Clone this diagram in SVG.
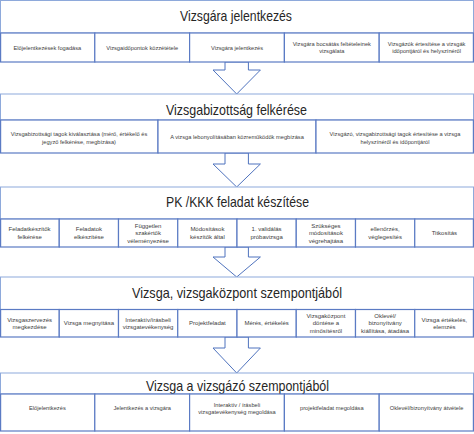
<svg xmlns="http://www.w3.org/2000/svg" width="474" height="434" viewBox="0 0 474 434">
<style>
.bg{fill:#ffffff}
.hdr{fill:#ffffff;stroke:#8ea9db;stroke-width:1}
.box{fill:#ffffff;stroke:#5b7bc4;stroke-width:1.2}
.arr{fill:#ffffff;stroke:#4f73be;stroke-width:1}
.title{font-family:"Liberation Sans",Arial,sans-serif;font-size:14.5px;fill:#262626;text-anchor:middle}
.t{font-family:"Liberation Sans",Arial,sans-serif;font-size:5.7px;fill:#404040;text-anchor:middle}
.t6{font-family:"Liberation Sans",Arial,sans-serif;font-size:6px;fill:#404040;text-anchor:middle}
</style>
<rect class="bg" x="0" y="0" width="474" height="434"/>

<g id="connectors">
<polygon class="arr" points="225,62 225,70 213,70 236.7,94 260.4,70 248.4,70 248.4,62"/>
<polygon class="arr" points="225,153 225,164 213,164 236.7,187 260.4,164 248.4,164 248.4,153"/>
<polygon class="arr" points="225,247 225,257 213,257 236.7,277 260.4,257 248.4,257 248.4,247"/>
<polygon class="arr" points="225,337 225,348 213,348 236.7,373 260.4,348 248.4,348 248.4,337"/>
</g>

<g id="row1">
<rect class="hdr" x="0.5" y="0.5" width="473" height="32.5"/>
<text class="title" x="236" y="21" textLength="112" lengthAdjust="spacingAndGlyphs">Vizsgára jelentkezés</text>
<g id="r1b1"><rect class="box" x="0.6" y="33" width="94.2" height="29"/><text class="t" x="47.4" y="49.5">Előjelentkezések fogadása</text></g>
<g id="r1b2"><rect class="box" x="94.8" y="33" width="94.8" height="29"/><text class="t" x="142.2" y="49.5">Vizsgaidőpontok közzététele</text></g>
<g id="r1b3"><rect class="box" x="189.6" y="33" width="94.8" height="29"/><text class="t" x="237" y="49.5">Vizsgára jelentkezés</text></g>
<g id="r1b4"><rect class="box" x="284.4" y="33" width="94.8" height="29"/><text class="t" x="331.8" y="45.5">Vizsgára bocsátás feltételeinek</text><text class="t" x="331.8" y="52.5">vizsgálata</text></g>
<g id="r1b5"><rect class="box" x="379.2" y="33" width="94.2" height="29"/><text class="t" x="426.6" y="45.5">Vizsgázók értesítése a vizsgák</text><text class="t" x="426.6" y="52.5">időpontjáról és helyszínéről</text></g>
</g>

<g id="row2">
<rect class="hdr" x="0.5" y="94" width="473" height="26"/>
<text class="title" x="236.5" y="114.5" textLength="141" lengthAdjust="spacingAndGlyphs">Vizsgabizottság felkérése</text>
<g id="r2b1"><rect class="box" x="0.6" y="120" width="157.4" height="33"/><text class="t" x="79" y="136">Vizsgabizottsági tagok kiválasztása (mérő, értékelő és</text><text class="t" x="79" y="143.5">jegyző felkérése, megbízása)</text></g>
<g id="r2b2"><rect class="box" x="158" y="120" width="158" height="33"/><text class="t" x="237" y="139">A vizsga lebonyolításában közreműködők megbízása</text></g>
<g id="r2b3"><rect class="box" x="316" y="120" width="157.4" height="33"/><text class="t" x="395" y="136">Vizsgázó, vizsgabizottsági tagok értesítése a vizsga</text><text class="t" x="395" y="143.5">helyszínéről és időpontjáról</text></g>
</g>

<g id="row3">
<rect class="hdr" x="0.5" y="187" width="473" height="32"/>
<text class="title" x="237.5" y="206.5" textLength="143" lengthAdjust="spacingAndGlyphs">PK /KKK feladat készítése</text>
<g id="r3b1"><rect class="box" x="0.6" y="219" width="58.65" height="28"/><text class="t6" x="29.6" y="231.3">Feladatkészítők</text><text class="t6" x="29.6" y="238.8">felkérése</text></g>
<g id="r3b2"><rect class="box" x="59.25" y="219" width="59.25" height="28"/><text class="t6" x="88.9" y="231.3">Feladatok</text><text class="t6" x="88.9" y="238.8">elkészítése</text></g>
<g id="r3b3"><rect class="box" x="118.5" y="219" width="59.25" height="28"/><text class="t6" x="148.1" y="227.5">Független</text><text class="t6" x="148.1" y="235">szakértők</text><text class="t6" x="148.1" y="242.5">véleményezése</text></g>
<g id="r3b4"><rect class="box" x="177.75" y="219" width="59.25" height="28"/><text class="t6" x="207.4" y="231.3">Módosítások</text><text class="t6" x="207.4" y="238.8">készítők által</text></g>
<g id="r3b5"><rect class="box" x="237" y="219" width="59.25" height="28"/><text class="t6" x="266.6" y="231.3">1. validálás</text><text class="t6" x="266.6" y="238.8">próbavizsga</text></g>
<g id="r3b6"><rect class="box" x="296.25" y="219" width="59.25" height="28"/><text class="t6" x="325.9" y="227.5">Szükséges</text><text class="t6" x="325.9" y="235">módosítások</text><text class="t6" x="325.9" y="242.5">végrehajtása</text></g>
<g id="r3b7"><rect class="box" x="355.5" y="219" width="59.25" height="28"/><text class="t6" x="385.1" y="231.3">ellenőrzés,</text><text class="t6" x="385.1" y="238.8">véglegesítés</text></g>
<g id="r3b8"><rect class="box" x="414.75" y="219" width="58.65" height="28"/><text class="t6" x="444.4" y="235">Titkosítás</text></g>
</g>

<g id="row4">
<rect class="hdr" x="0.5" y="277" width="473" height="32.5"/>
<text class="title" x="237" y="298" textLength="210" lengthAdjust="spacingAndGlyphs">Vizsga, vizsgaközpont szempontjából</text>
<g id="r4b1"><rect class="box" x="0.6" y="309.5" width="58.65" height="27.5"/><text class="t6" x="29.6" y="321.5">Vizsgaszervezés</text><text class="t6" x="29.6" y="329">megkezdése</text></g>
<g id="r4b2"><rect class="box" x="59.25" y="309.5" width="59.25" height="27.5"/><text class="t6" x="88.9" y="325.3">Vizsga megnyitása</text></g>
<g id="r4b3"><rect class="box" x="118.5" y="309.5" width="59.25" height="27.5"/><text class="t6" x="148.1" y="321.5">Interaktív/írásbeli</text><text class="t6" x="148.1" y="329">vizsgatevékenység</text></g>
<g id="r4b4"><rect class="box" x="177.75" y="309.5" width="59.25" height="27.5"/><text class="t6" x="207.4" y="325.3">Projektfeladat</text></g>
<g id="r4b5"><rect class="box" x="237" y="309.5" width="59.25" height="27.5"/><text class="t6" x="266.6" y="325.3">Mérés, értékelés</text></g>
<g id="r4b6"><rect class="box" x="296.25" y="309.5" width="59.25" height="27.5"/><text class="t6" x="325.9" y="317.8">Vizsgaközpont</text><text class="t6" x="325.9" y="325.3">döntése a</text><text class="t6" x="325.9" y="332.8">minősítésről</text></g>
<g id="r4b7"><rect class="box" x="355.5" y="309.5" width="59.25" height="27.5"/><text class="t6" x="385.1" y="317.8">Oklevél/</text><text class="t6" x="385.1" y="325.3">bizonyítvány</text><text class="t6" x="385.1" y="332.8">kiállítása, átadása</text></g>
<g id="r4b8"><rect class="box" x="414.75" y="309.5" width="58.65" height="27.5"/><text class="t6" x="444.4" y="321.5">Vizsga értékelés,</text><text class="t6" x="444.4" y="329">elemzés</text></g>
</g>

<g id="row5">
<rect class="hdr" x="0.5" y="373" width="473" height="21"/>
<text class="title" x="237.5" y="390.5" textLength="183" lengthAdjust="spacingAndGlyphs">Vizsga a vizsgázó szempontjából</text>
<g id="r5b1"><rect class="box" x="0.6" y="394" width="94.2" height="37"/><text class="t" x="47.4" y="409.7">Előjelentkezés</text></g>
<g id="r5b2"><rect class="box" x="94.8" y="394" width="94.8" height="37"/><text class="t" x="142.2" y="409.7">Jelentkezés a vizsgára</text></g>
<g id="r5b3"><rect class="box" x="189.6" y="394" width="94.8" height="37"/><text class="t" x="237" y="407">Interaktív / írásbeli</text><text class="t" x="237" y="414">vizsgatevékenység megoldása</text></g>
<g id="r5b4"><rect class="box" x="284.4" y="394" width="94.8" height="37"/><text class="t" x="331.8" y="409.7">projektfeladat megoldása</text></g>
<g id="r5b5"><rect class="box" x="379.2" y="394" width="94.2" height="37"/><text class="t" x="426.6" y="409.7">Oklevél/bizonyítvány átvétele</text></g>
</g>
</svg>
